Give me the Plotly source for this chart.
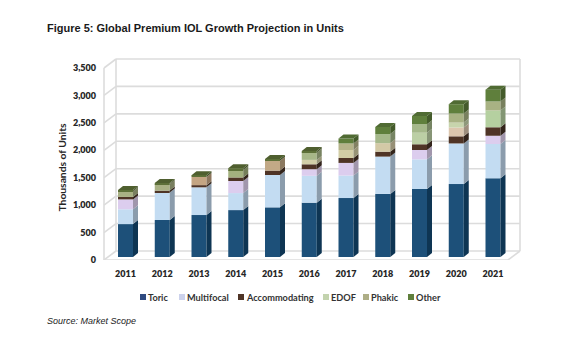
import plotly.graph_objects as go

years = [2011, 2012, 2013, 2014, 2015, 2016, 2017, 2018, 2019, 2020, 2021]
toric = [600, 675, 765, 855, 905, 990, 1075, 1150, 1240, 1330, 1435]
multifocal_lower = [270, 500, 505, 310, 590, 490, 410, 680, 540, 740, 625]
multifocal_upper = [180, 0, 0, 220, 0, 120, 230, 0, 170, 0, 150]
accommodating = [45, 35, 40, 65, 80, 90, 90, 90, 105, 130, 155]
edof_lower = [0, 0, 0, 0, 0, 80, 145, 155, 210, 160, 305]
edof_upper = [0, 0, 0, 0, 0, 0, 0, 0, 0, 90, 0]
phakic = [105, 120, 150, 135, 180, 135, 120, 165, 155, 165, 165]
other = [20, 20, 30, 35, 30, 25, 90, 130, 150, 170, 215]
y_ticks = [0, 500, 1000, 1500, 2000, 2500, 3000, 3500]
y_labels = ["0", "500", "1,000", "1,500", "2,000", "2,500", "3,000", "3,500"]

phakic_colors = ["#a9b184", "#a9b184", "#c4a583", "#a3b07e", "#c2a986", "#a7b788",
                 "#b5b48a", "#a5b88a", "#a5b88a", "#a8b283", "#a8b283"]
edof_colors = ["#d3cfa8"] * 5 + ["#d3cfa8", "#d2cda5", "#d3c9a6", "#bccfa5", "#dcc6ae", "#b5d0a0"]
other_colors = ["#5d7038"] * 6 + ["#5f7f3c"] * 5
series = [
    (toric, ["#1d5079"] * 11, "#0e3553"),
    (multifocal_lower, ["#c3dcf2"] * 11, "#8b9cac"),
    (multifocal_upper, ["#dccdee"] * 11, "#a196ac"),
    (accommodating, ["#4f3426"] * 11, "#33241b"),
    (edof_lower, edof_colors, None),
    (edof_upper, ["#c7d4ac"] * 11, None),
    (phakic, phakic_colors, None),
    (other, other_colors, None),
]

WIDTH, HEIGHT = 585, 352
L, R, T, B = 100, 525, 50, 260            # plot area in pixels
PX_PER_YEAR = 36.75
PX_PER_UNIT = 27.43 / 500
X0 = 2011 - (125.5 - L) / PX_PER_YEAR
X1 = 2011 + (R - 125.5) / PX_PER_YEAR
YTOP = (B - T) / PX_PER_UNIT
ux = lambda px: px / PX_PER_YEAR
uy = lambda px: px / PX_PER_UNIT

bar_w = ux(15)
bar_dx, bar_dy = ux(5), uy(4)
lift = uy(3)
wall_dx, wall_dy = ux(12), uy(9)
fl, fr = X0 + ux(4), X0 + ux(408)
GRID = "#dcdcdc"


def darken(c, f):
    r, g, b = (int(c[i:i + 2], 16) for i in (1, 3, 5))
    return f"#{int(r * f):02x}{int(g * f):02x}{int(b * f):02x}"


fig = go.Figure()


def poly(xs, ys, color):
    fig.add_trace(go.Scatter(x=xs, y=ys, mode="lines", fill="toself", fillcolor=color,
                             line=dict(width=0, color=color), hoverinfo="skip", showlegend=False))


def line(x0, y0, x1, y1):
    fig.add_shape(type="line", xref="x", yref="y", x0=x0, y0=y0, x1=x1, y1=y1, layer="below",
                  line=dict(color=GRID, width=1.6))


# walls and floor
for t in y_ticks:
    line(fl, t, fl + wall_dx, t + wall_dy)
    line(fl + wall_dx, t + wall_dy, fr + wall_dx, t + wall_dy)
line(fl, 0, fl, 3500)
line(fl + wall_dx, wall_dy, fl + wall_dx, 3500 + wall_dy)
line(fr + wall_dx, wall_dy, fr + wall_dx, 3500 + wall_dy)
line(fl, 0, fr, 0)
line(fr, 0, fr + wall_dx, wall_dy)

cum = [lift] * len(years)
for values, colors, side in series:
    bases = list(cum)
    tops = [b + v for b, v in zip(bases, values)]
    fig.add_trace(go.Bar(x=years, y=values, base=bases, width=bar_w, marker=dict(color=colors, line_width=0),
                         hoverinfo="skip", showlegend=False))
    for i, yr in enumerate(years):
        if values[i] <= 0:
            continue
        xr = yr + bar_w / 2
        poly([xr, xr + bar_dx, xr + bar_dx, xr, xr],
             [bases[i], bases[i] + bar_dy, tops[i] + bar_dy, tops[i], bases[i]],
             side or darken(colors[i], 0.72))
    cum = tops

for i, yr in enumerate(years):
    xl, xr = yr - bar_w / 2, yr + bar_w / 2
    poly([xl, xr, xr + bar_dx, xl + bar_dx, xl],
         [cum[i], cum[i], cum[i] + bar_dy, cum[i] + bar_dy, cum[i]], darken(other_colors[i], 0.85))

TICK_FONT = dict(family="Lato", size=9, color="#262626", weight=800)
fig.update_layout(
    width=WIDTH, height=HEIGHT, autosize=False, barmode="overlay", showlegend=False,
    paper_bgcolor="white", plot_bgcolor="white",
    margin=dict(l=L, r=WIDTH - R, t=T, b=HEIGHT - B),
    xaxis=dict(range=[X0, X1], tickvals=years, ticktext=[str(y) for y in years], showgrid=False,
               zeroline=False, showline=False, ticks="", ticklabelstandoff=7, tickfont=TICK_FONT),
    yaxis=dict(range=[0, YTOP], tickvals=y_ticks, ticktext=y_labels, showgrid=False, zeroline=False,
               showline=False, ticks="", ticklabelstandoff=3, tickfont=TICK_FONT),
)


def paper_text(px, py, text, xanchor="left", textangle=0, **font):
    fig.add_annotation(xref="paper", yref="paper", x=(px - L) / (R - L), y=(B - py) / (B - T),
                       text=text, showarrow=False, xanchor=xanchor, yanchor="middle",
                       textangle=textangle, font=font)


paper_text(45, 28.5, "<b>Figure 5: Global Premium IOL Growth Projection in Units</b>",
           family="Liberation Sans", size=11, color="#1a1a1a")
paper_text(45, 321, "<i>Source: Market Scope</i>", family="Liberation Sans", size=9, color="#222222")
paper_text(61, 167.5, "Thousands of Units", xanchor="center", textangle=-90,
           family="Lato", size=10.3, color="#262626", weight=700)

legend = [("Toric", "#2f4a80", 140), ("Multifocal", "#ccd2ec", 179), ("Accommodating", "#4f3426", 238),
          ("EDOF", "#c3d3ae", 323), ("Phakic", "#aeae86", 363), ("Other", "#5f7f3c", 408)]
for name, color, px in legend:
    fig.add_shape(type="rect", xref="paper", yref="paper", x0=(px - L) / (R - L), x1=(px + 6 - L) / (R - L),
                  y0=(B - 300) / (B - T), y1=(B - 294) / (B - T), fillcolor=color, line_width=0)
    paper_text(px + 6, 297, name, family="Lato", size=9.2, color="#333333", weight=700)

fig.write_html("out.html", config={"displayModeBar": False}, post_script="document.body.style.margin='0';")
